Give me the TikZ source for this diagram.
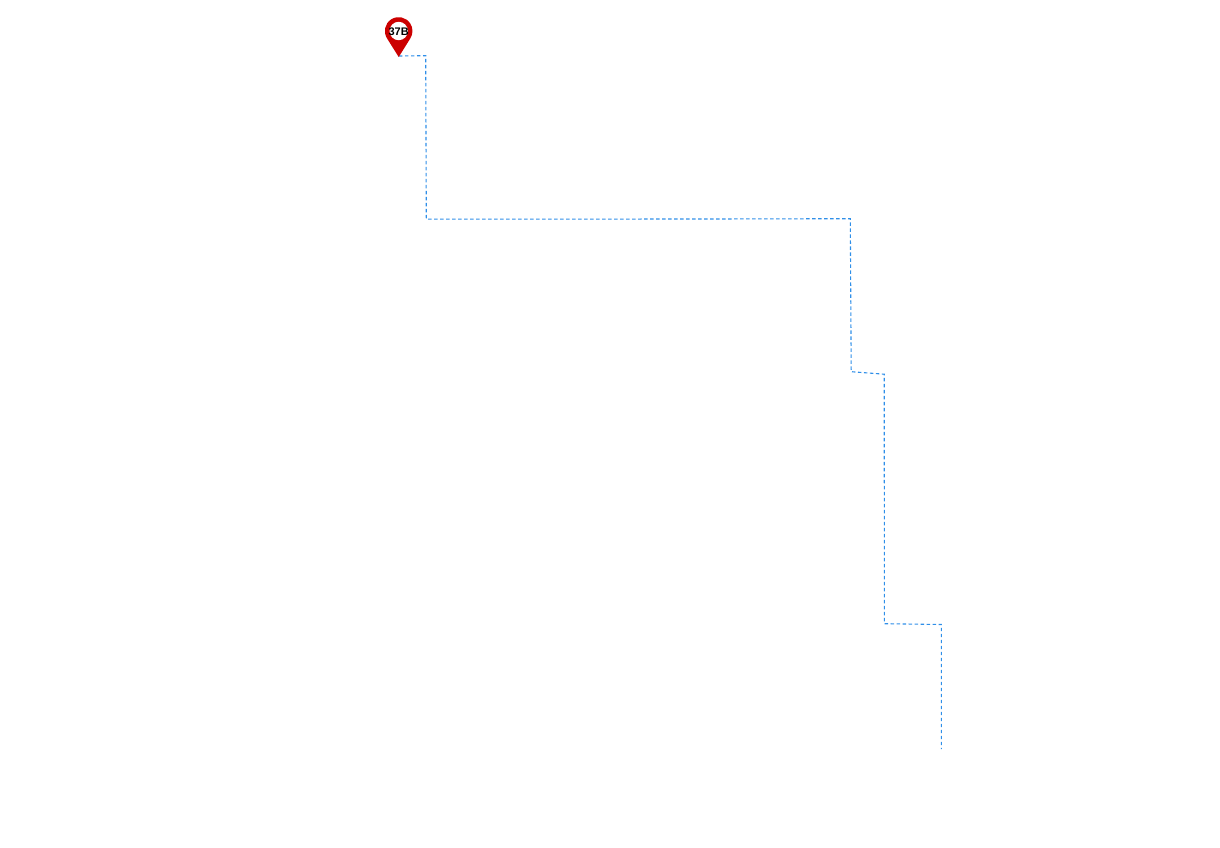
\documentclass[tikz,border=0pt]{standalone}
\usepackage{fontspec}
\setmainfont{Liberation Sans}
\definecolor{routeblue}{HTML}{2F8FE8}
\definecolor{pinred}{HTML}{CC0000}
\tikzset{
  route/.style={draw=routeblue,line width=1.1pt,dash pattern=on 3.4pt off 2.6pt},
  pinlabel/.style={inner sep=0pt,font=\bfseries\fontsize{11}{11}\selectfont,text=black}
}
\begin{document}
\begin{tikzpicture}[x=1pt,y=-1pt]
\useasboundingbox (0,0) rectangle (1220,848);
\coordinate (p0) at (399,56);
\coordinate (p1) at (425.7,55.7);
\coordinate (p2) at (426.3,219.2);
\coordinate (p3) at (710,219);
\coordinate (p4) at (850.3,218.7);
\coordinate (p5) at (851.2,371.7);
\coordinate (p6) at (884.2,374.2);
\coordinate (p7) at (884.4,623.7);
\coordinate (p8) at (941.3,624.5);
\coordinate (p9) at (941.3,749);
\draw[route] (p0) -- (p1) -- (p2) -- (p3) -- (p4) -- (p5) -- (p6) -- (p7) -- (p8) -- (p9);
\fill[pinred] (398.7,57) -- (387.1,38.5) arc[start angle=147,end angle=393,radius=13.8] -- cycle;
\fill[white] (398.7,31) circle[radius=9.2];
\node[pinlabel] (pin) at (398.7,31.4) {37B};
\end{tikzpicture}
\end{document}
